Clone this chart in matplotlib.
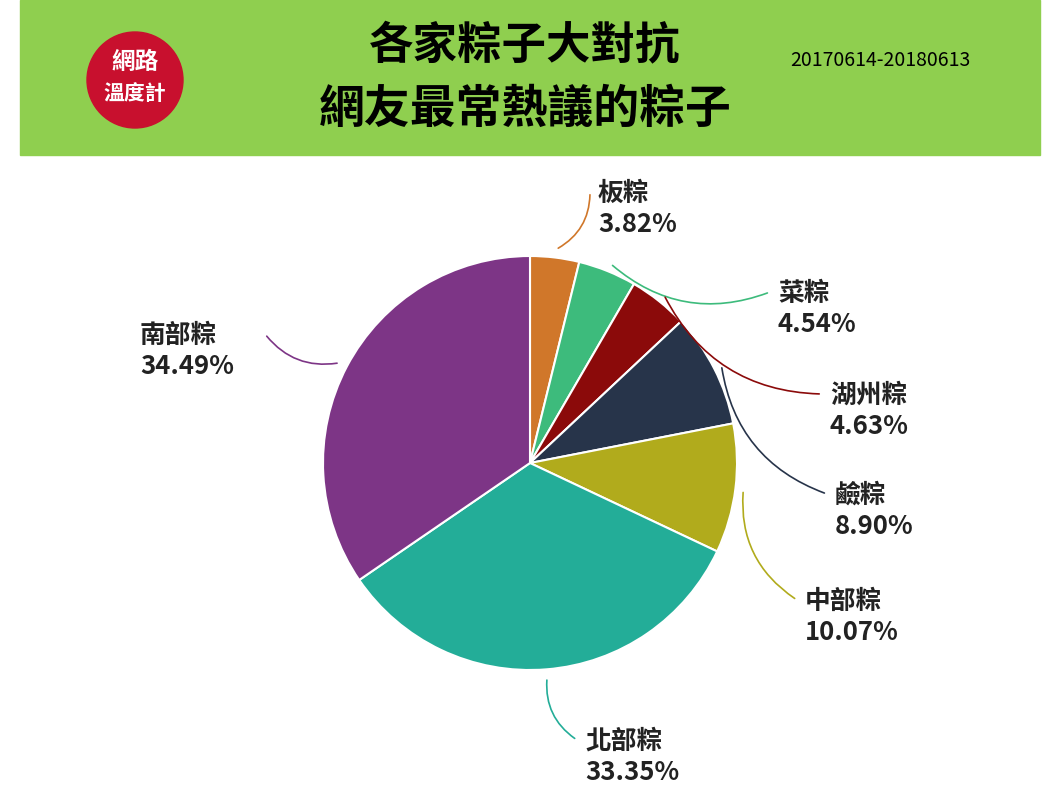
import numpy as np
import matplotlib.pyplot as plt
from matplotlib.patches import Circle, Rectangle

plt.rcParams['font.family'] = ['Noto Sans CJK TC', 'DejaVu Sans']

names = ["板粽", "菜粽", "湖州粽", "鹼粽", "中部粽", "北部粽", "南部粽"]
shares = [3.82, 4.54, 4.63, 8.90, 10.07, 33.35, 34.49]
colors = ["#d0772a", "#3dbb7c", "#8b0a0a", "#27344a", "#b1ab1c", "#23ad98", "#7d3586"]
# label text anchor (pixels) per slice
label_pos = [(598, 180), (778, 280), (830, 382), (835, 482), (805, 588), (585, 728), (140, 322)]

fig = plt.figure(figsize=(10.6, 8), dpi=100)
ax = fig.add_axes([0, 0, 1, 1])
ax.set_xlim(0, 1060)
ax.set_ylim(800, 0)
ax.set_aspect('equal')
ax.axis('off')

# header band
ax.add_patch(Rectangle((20, 0), 1020, 155, color="#8fcf4f", zorder=0))
ax.add_patch(Circle((135, 80), 48, color="#c8102e", zorder=1))
ax.text(135, 62, "網路", color="white", fontsize=17, ha="center", va="center", fontweight="bold")
ax.text(135, 94, "溫度計", color="white", fontsize=15, ha="center", va="center", fontweight="bold")
ax.text(525, 46, "各家粽子大對抗", fontsize=32, ha="center", va="center", fontweight="bold")
ax.text(525, 110, "網友最常熱議的粽子", fontsize=33, ha="center", va="center", fontweight="bold")
ax.text(880, 60, "20170614-20180613", fontsize=14, ha="center", va="center")

cx, cy, r = 530, 463, 207
wedges, _ = ax.pie(shares, colors=colors, startangle=270, counterclock=True,
                   center=(cx, cy), radius=r, frame=True,
                   wedgeprops=dict(edgecolor="white", linewidth=1.5))
ax.set_xlim(0, 1060)
ax.set_ylim(800, 0)
ax.axis('off')

for w, name, val, col, (tx, ty) in zip(wedges, names, shares, colors, label_pos):
    a = np.deg2rad((w.theta1 + w.theta2) / 2)
    sx, sy = cx + (r + 8) * np.cos(a), cy + (r + 8) * np.sin(a)
    ex = tx + (125 if tx < cx else -8)
    ey = ty + 12
    rad = -0.3 if tx > cx else 0.3
    ax.annotate("", xy=(sx, sy), xytext=(ex, ey),
                arrowprops=dict(arrowstyle="-", color=col, lw=1.2,
                                connectionstyle=f"arc3,rad={rad}"))
    ax.text(tx, ty, f"{name}\n{val:.2f}%", fontsize=18.5, fontweight="bold",
            va="top", ha="left", linespacing=1.2, color="#222222")

fig.savefig("out.png", dpi=100)
